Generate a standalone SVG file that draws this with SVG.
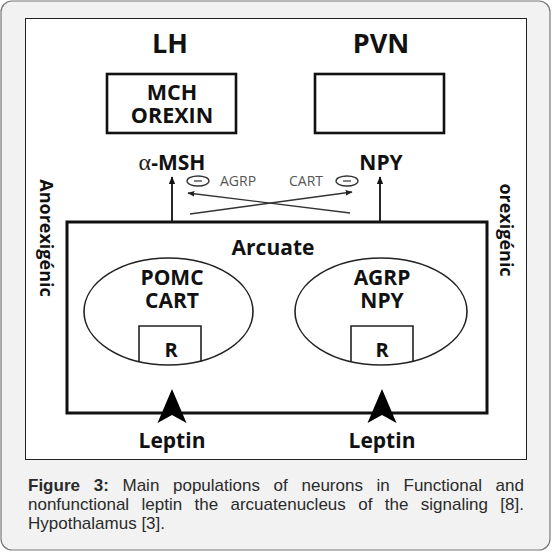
<svg xmlns="http://www.w3.org/2000/svg" width="552" height="552" viewBox="0 0 552 552">
<defs>
<style>
.b{font-family:"Open Sans","Liberation Sans",sans-serif;font-weight:bold;fill:#111;text-anchor:middle}
.s{font-family:"Open Sans","Liberation Sans",sans-serif;font-size:14px;fill:#555;text-anchor:middle}
.cap{font-family:"Liberation Sans",Arial,sans-serif;font-size:17px;fill:#2a2a2a}
.ln{fill:none;stroke:#111;stroke-width:2.6}
.th{fill:none;stroke:#222;stroke-width:1.6}
.x{fill:none;stroke:#333;stroke-width:1.4}
</style>
<marker id="ah" viewBox="0 0 10 10" refX="9" refY="5" markerWidth="7" markerHeight="7" markerUnits="userSpaceOnUse" orient="auto">
<path d="M0,1 L10,5 L0,9 Z" fill="#222"/>
</marker>
<marker id="av" viewBox="0 0 10 10" refX="9" refY="5" markerWidth="8" markerHeight="8" markerUnits="userSpaceOnUse" orient="auto">
<path d="M0,1 L10,5 L0,9 Z" fill="#111"/>
</marker>
</defs>
<rect x="1" y="1" width="549" height="549" rx="11" fill="#f2f2f2" stroke="#777" stroke-width="1.2"/>
<rect x="25.5" y="18.5" width="501" height="441" fill="#fff" stroke="#222" stroke-width="1"/>

<g id="lh">
<text class="b" x="170" y="53" font-size="27">LH</text>
<rect class="ln" x="107" y="74" width="129" height="59"/>
<text class="b" x="172" y="100" font-size="21.5">MCH</text>
<text class="b" x="172" y="123" font-size="21.5">OREXIN</text>
</g>
<g id="pvn">
<text class="b" x="381" y="53" font-size="27">PVN</text>
<rect class="ln" x="315" y="74" width="129" height="59"/>
</g>
<g id="amsh">
<text x="172" y="170" font-size="21" text-anchor="middle"><tspan font-family="'Liberation Serif','DejaVu Serif',serif" font-size="24" fill="#222">α</tspan><tspan font-family="'Open Sans','Liberation Sans',sans-serif" font-weight="bold" fill="#111">-MSH</tspan></text>
</g>
<g id="npy">
<text class="b" x="381" y="170" font-size="21">NPY</text>
</g>
<g id="inh-agrp">
<ellipse cx="198" cy="181" rx="11" ry="5" fill="none" stroke="#333" stroke-width="1.3"/>
<line x1="194" y1="181" x2="202" y2="181" stroke="#333" stroke-width="1.2"/>
<text class="s" x="238" y="186">AGRP</text>
</g>
<g id="inh-cart">
<ellipse cx="347" cy="181" rx="11" ry="5" fill="none" stroke="#333" stroke-width="1.3"/>
<line x1="343" y1="181" x2="351" y2="181" stroke="#333" stroke-width="1.2"/>
<text class="s" x="306" y="186">CART</text>
</g>
<g id="arcuate">
<rect x="67" y="222" width="420" height="191" fill="none" stroke="#111" stroke-width="3"/>
<text class="b" x="273" y="255" font-size="21">Arcuate</text>
</g>
<g id="pomc">
<ellipse class="th" cx="168.5" cy="311.5" rx="84.5" ry="53.5"/>
<text class="b" x="172" y="285" font-size="21">POMC</text>
<text class="b" x="172" y="308" font-size="21">CART</text>
<path class="th" d="M139,362 V326 H201 V362"/>
<text class="b" x="171" y="357" font-size="20">R</text>
</g>
<g id="agrp">
<ellipse class="th" cx="381" cy="311.5" rx="86" ry="53.5"/>
<text class="b" x="382" y="285" font-size="21">AGRP</text>
<text class="b" x="382" y="308" font-size="21">NPY</text>
<path class="th" d="M351,362 V326 H413 V362"/>
<text class="b" x="382" y="357" font-size="20">R</text>
</g>
<g id="leptin1">
<text class="b" x="172" y="448" font-size="21">Leptin</text>
</g>
<g id="leptin2">
<text class="b" x="382" y="448" font-size="21">Leptin</text>
</g>
<g id="side-labels">
<text class="b" font-size="18" transform="translate(40,238) rotate(90)">Anorexigénic</text>
<text class="b" font-size="18" transform="translate(500,230) rotate(90)">orexigénic</text>
</g>
<g id="connectors">
<line x1="172" y1="222" x2="172" y2="177" stroke="#111" stroke-width="1.8" marker-end="url(#av)"/>
<line x1="380" y1="222" x2="380" y2="177" stroke="#111" stroke-width="1.8" marker-end="url(#av)"/>
<line class="x" x1="190" y1="214" x2="352" y2="192" marker-end="url(#ah)"/>
<line class="x" x1="350" y1="213" x2="188" y2="193" marker-end="url(#ah)"/>
<path d="M172,389 L186.5,423 L172,415 L157.5,423 Z" fill="#000"/>
<path d="M382,389 L396.5,423 L382,415 L367.5,423 Z" fill="#000"/>
</g>
<g id="caption" class="cap">
<text y="491"><tspan x="28" font-weight="bold">Figure</tspan><tspan x="93.7" font-weight="bold">3:</tspan><tspan x="122.5">Main</tspan><tspan x="173">populations</tspan><tspan x="273.6">of</tspan><tspan x="301.5">neurons</tspan><tspan x="376.6">in</tspan><tspan x="403.5">Functional</tspan><tspan x="495.6">and</tspan></text>
<text y="510"><tspan x="28">nonfunctional</tspan><tspan x="141.5">leptin</tspan><tspan x="194.5">the</tspan><tspan x="230.5">arcuatenucleus</tspan><tspan x="358.2">of</tspan><tspan x="384.8">the</tspan><tspan x="420.8">signaling</tspan><tspan x="500.3">[8].</tspan></text>
<text y="529" x="28">Hypothalamus [3].</text>
</g>
</svg>
